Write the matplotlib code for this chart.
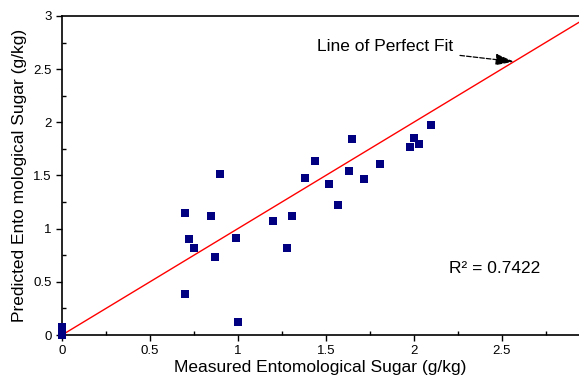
import numpy as np
import matplotlib
matplotlib.use('Agg')
import matplotlib.pyplot as plt
from matplotlib.ticker import MultipleLocator

plt.rcParams['font.family'] = ['Liberation Sans', 'DejaVu Sans']

# measured vs predicted entomological sugar (g/kg)
measured = [0.0, 0.0, 0.70, 0.72, 0.75, 0.70, 0.85, 0.87, 0.90, 0.99, 1.00,
            1.20, 1.28, 1.31, 1.38, 1.44, 1.52, 1.57, 1.63, 1.65, 1.72,
            1.81, 1.98, 2.00, 2.03, 2.10]
predicted = [0.08, 0.0, 1.15, 0.90, 0.82, 0.39, 1.12, 0.73, 1.51, 0.91, 0.12,
             1.07, 0.82, 1.12, 1.48, 1.64, 1.42, 1.22, 1.54, 1.84, 1.47,
             1.61, 1.77, 1.85, 1.80, 1.97]
r2_text = 'R\u00b2 = 0.7422'

fig = plt.figure(figsize=(5.79, 3.79), dpi=100)
ax = fig.add_axes([0.107, 0.116, 0.893, 0.842])

fit = np.array([0, 3])
ax.plot(fit, fit, color='#ff0000', lw=1.0, zorder=2)
ax.scatter(measured, predicted, marker='s', s=26, color='#000080',
           linewidths=0, zorder=3, clip_on=False)

ax.annotate('Line of Perfect Fit', xy=(2.57, 2.57), xytext=(1.45, 2.71),
            fontsize=12.5, va='center',
            arrowprops=dict(arrowstyle='-|>,head_length=0.8,head_width=0.25',
                            linestyle='--', color='black',
                            lw=0.9, mutation_scale=14, shrinkA=3, shrinkB=0))
ax.text(2.2, 0.63, r2_text, fontsize=12.5, va='center')

ax.set_xlim(0, 2.94)
ax.set_ylim(0, 3)
ax.xaxis.set_minor_locator(MultipleLocator(0.25))
ax.yaxis.set_minor_locator(MultipleLocator(0.25))
ax.set_xticks([0, 0.5, 1, 1.5, 2, 2.5])
ax.set_xticklabels(['0', '0.5', '1', '1.5', '2', '2.5'])
ax.set_yticks([0, 0.5, 1, 1.5, 2, 2.5, 3])
ax.set_yticklabels(['0', '0.5', '1', '1.5', '2', '2.5', '3'])
ax.tick_params(which='major', direction='out', length=4, width=1, labelsize=9.5)
ax.tick_params(which='minor', direction='in', length=3, width=1)
ax.spines['right'].set_visible(False)
for s in ['left', 'bottom', 'top']:
    ax.spines[s].set_linewidth(1.2)

ax.set_xlabel('Measured Entomological Sugar (g/kg)', fontsize=12.5, labelpad=2)
ax.set_ylabel('Predicted Ento mological Sugar (g/kg)', fontsize=12.5, labelpad=4)

fig.savefig('out.png', dpi=100)
